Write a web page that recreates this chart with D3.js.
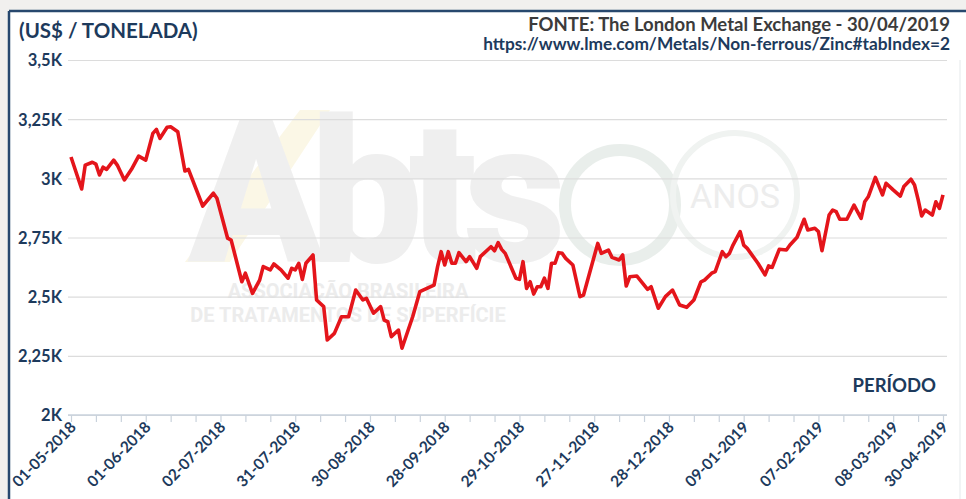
<!DOCTYPE html>
<html>
<head>
<meta charset="utf-8">
<script src="https://cdn.jsdelivr.net/npm/d3@7"></script>
<style>
  html, body { margin: 0; padding: 0; background: #f1f0ee; }
  svg { display: block; font-family: Lato, "Open Sans", sans-serif; }
</style>
</head>
<body>
<svg width="966" height="499"></svg>
<script>
// trading-day position on the category axis (0 = 01-05-2018, 245 = 30-04-2019)
var pos = [0,3,4,6,7,8,9,10,12,13,15,17,19,21,23,24,25,27,28,30,32,33,37,40,41,44,45,48,49,51,53,54,56,57,59,61,62,63,64,65,66,68,69,71,72,74,76,78,80,82,83,85,87,88,89,90,92,93,96,98,100,102,103,104,105,106,107,108,109,111,112,114,115,118,119,120,121,122,125,126,127,128,129,130,131,132,133,134,135,136,137,138,139,141,143,144,148,149,151,152,154,155,156,157,159,162,163,165,167,169,171,173,175,177,178,180,181,183,184,185,186,188,189,190,193,195,196,197,199,201,202,204,206,207,209,210,211,213,214,215,216,218,220,222,223,224,226,228,229,231,233,234,236,237,238,239,240,242,243,244,245];
// zinc price, US$ / tonne
var price = [3090,2955,3056,3068,3060,3014,3047,3038,3077,3056,2993,3038,3094,3077,3190,3207,3169,3216,3218,3197,3031,3038,2883,2937,2916,2747,2739,2563,2599,2514,2570,2627,2613,2638,2613,2578,2620,2613,2641,2573,2641,2676,2486,2458,2317,2345,2415,2415,2528,2486,2493,2430,2458,2401,2394,2331,2359,2282,2415,2521,2535,2549,2627,2690,2634,2690,2641,2641,2686,2648,2669,2620,2669,2711,2694,2728,2700,2683,2578,2573,2648,2535,2563,2511,2542,2542,2578,2535,2641,2641,2686,2683,2662,2634,2500,2507,2725,2683,2697,2666,2655,2676,2545,2584,2587,2531,2542,2451,2500,2528,2465,2455,2486,2563,2570,2599,2606,2690,2669,2683,2718,2775,2718,2704,2641,2592,2630,2624,2700,2697,2718,2751,2827,2782,2789,2775,2694,2845,2866,2859,2827,2827,2887,2831,2901,2922,3004,2930,2979,2951,2925,2965,2996,2972,2911,2841,2866,2845,2901,2873,2930];

var tickLabels = ["01-05-2018","01-06-2018","02-07-2018","31-07-2018","30-08-2018","28-09-2018","29-10-2018","27-11-2018","28-12-2018","09-01-2019","07-02-2019","08-03-2019","30-04-2019"];
var labelPos = [0,21,42,63,84,105,126,147,168,189,210,231,245];
var yTicks = [2000,2250,2500,2750,3000,3250,3500];

var NAVY = "#1d3a5c";
var RED = "#e4151b";

var svg = d3.select("svg");

// frame
svg.append("rect").attr("x", 9).attr("y", 11).attr("width", 960).attr("height", 500).attr("fill", "#ffffff");
svg.append("line").attr("x1", 9).attr("x2", 966).attr("y1", 11).attr("y2", 11).attr("stroke", "#27486e").attr("stroke-width", 2.5);
svg.append("line").attr("x1", 9).attr("x2", 9).attr("y1", 11).attr("y2", 499).attr("stroke", "#27486e").attr("stroke-width", 2.5);
svg.append("line").attr("x1", 960).attr("x2", 960).attr("y1", 60).attr("y2", 499).attr("stroke", "#eef0f2").attr("stroke-width", 1.5);

// watermark (ABTS / 50 anos)
var wm = svg.append("g").attr("opacity", 0.85);
wm.append("polygon").attr("points", "185,262 300,110 330,110 230,262").attr("fill", "#fbf6e2");
wm.append("text").attr("x", 188).attr("y", 262).attr("font-size", 200).attr("font-weight", 900)
  .attr("font-family", "Roboto, sans-serif").attr("fill", "#ededed").attr("letter-spacing", -14).text("Abts");
wm.append("text").attr("x", 348).attr("y", 298).attr("text-anchor", "middle").attr("font-size", 20).attr("font-weight", 700)
  .attr("font-family", "Roboto, sans-serif").attr("fill", "#e9e9e9").text("ASSOCIAÇÃO BRASILEIRA");
wm.append("text").attr("x", 348).attr("y", 322).attr("text-anchor", "middle").attr("font-size", 20).attr("font-weight", 700)
  .attr("font-family", "Roboto, sans-serif").attr("fill", "#e9e9e9").text("DE TRATAMENTOS DE SUPERFÍCIE");
wm.append("circle").attr("cx", 620).attr("cy", 205).attr("r", 55).attr("fill", "none").attr("stroke", "#e6ece8").attr("stroke-width", 12);
wm.append("circle").attr("cx", 735).attr("cy", 195).attr("r", 62).attr("fill", "none").attr("stroke", "#eef1ef").attr("stroke-width", 6);
wm.append("text").attr("x", 735).attr("y", 208).attr("text-anchor", "middle").attr("font-size", 34)
  .attr("font-family", "Roboto, sans-serif").attr("fill", "#eaeaea").text("ANOS");

// scales
var x = d3.scaleLinear().domain([0, 245]).range([71, 943]);
var y = d3.scaleLinear().domain([2000, 3500]).range([415, 60]);

// gridlines + y labels
var yAxis = d3.axisLeft(y).tickValues(yTicks).tickSize(-879).tickPadding(6)
  .tickFormat(function(d){ return String(d / 1000).replace(".", ",") + "K"; });
var gy = svg.append("g").attr("transform", "translate(68,0)").call(yAxis);
gy.select(".domain").remove();
gy.selectAll("line").attr("stroke", "#dcdcdc").attr("stroke-width", 1.2);
gy.selectAll("text").attr("fill", NAVY).attr("font-size", 16.5).attr("font-weight", 700)
  .attr("font-family", "Lato, sans-serif").attr("dy", "0.36em");

// x axis (category ticks every 7 trading days)
var xAxis = d3.axisBottom(x).tickValues(d3.range(0, 246, 7)).tickSize(7).tickFormat("");
var gx = svg.append("g").attr("transform", "translate(0,415)").call(xAxis);
gx.select(".domain").attr("stroke", "#c9d2dc").attr("stroke-width", 1.5).attr("d", "M68,0H947");
gx.selectAll(".tick line").attr("stroke", "#c9d2dc").attr("stroke-width", 1.2);

svg.append("g").selectAll("text").data(tickLabels).enter().append("text")
  .attr("transform", function(d, i){ return "translate(" + (x(labelPos[i]) + 6) + ",428) rotate(-46)"; })
  .attr("text-anchor", "end")
  .attr("font-size", 15.5).attr("font-weight", 700).attr("fill", NAVY)
  .attr("font-family", "Lato, sans-serif")
  .text(function(d){ return d; });

// price line
var line = d3.line().x(function(d){ return x(d[0]); }).y(function(d){ return y(d[1]); });
svg.append("path").datum(d3.zip(pos, price)).attr("d", line)
  .attr("fill", "none").attr("stroke", RED).attr("stroke-width", 3.6).attr("stroke-linejoin", "round");

// titles
svg.append("text").attr("x", 19).attr("y", 38).attr("font-size", 20.5).attr("font-weight", 700)
  .attr("fill", NAVY).text("(US$ / TONELADA)");
svg.append("text").attr("x", 950).attr("y", 31).attr("text-anchor", "end").attr("font-size", 18.5).attr("font-weight", 700)
  .attr("fill", "#3b3b3b").text("FONTE: The London Metal Exchange - 30/04/2019");
svg.append("text").attr("x", 950).attr("y", 50).attr("text-anchor", "end").attr("font-size", 17.3).attr("font-weight", 700)
  .attr("fill", NAVY).text("https://www.lme.com/Metals/Non-ferrous/Zinc#tabIndex=2");
svg.append("text").attr("x", 936).attr("y", 392).attr("text-anchor", "end").attr("font-size", 18.5).attr("font-weight", 700)
  .attr("fill", NAVY).text("PERÍODO");
</script>
</body>
</html>
